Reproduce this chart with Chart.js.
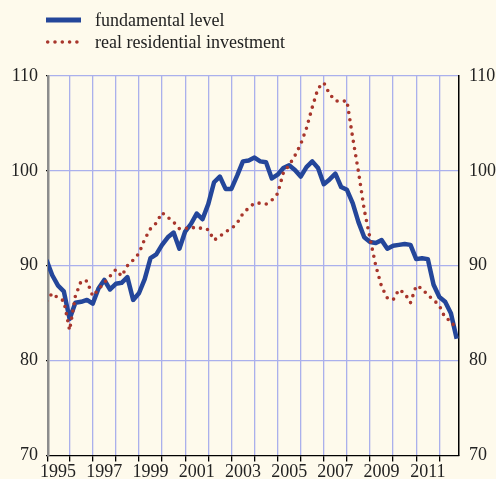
<!DOCTYPE html>
<html>
<head>
<meta charset="utf-8">
<script src="https://cdn.jsdelivr.net/npm/chart.js@4/dist/chart.umd.min.js"></script>
<style>
  html, body { margin: 0; padding: 0; background: #fefaec; }
  canvas { display: block; }
</style>
</head>
<body>
<canvas id="chart" width="496" height="479"></canvas>
<script>
// Quarterly series, 1995 Q1 onwards
const firstYear = 1995;
const periodsPerYear = 4;

const fundamentalLevel = [
  90.6, 89.0, 87.9, 87.3,
  84.4, 86.1, 86.2, 86.4,
  86.0, 87.6, 88.5, 87.5,
  88.1, 88.2, 88.8, 86.4,
  87.1, 88.6, 90.8, 91.2,
  92.2, 93.0, 93.5, 91.8,
  93.6, 94.4, 95.5, 94.9,
  96.5, 98.8, 99.4, 98.1,
  98.1, 99.5, 101.0, 101.1,
  101.4, 101.0, 100.9, 99.2,
  99.6, 100.3, 100.6, 100.1,
  99.4, 100.4, 101.0, 100.3,
  98.6, 99.1, 99.7, 98.3,
  98.0, 96.6, 94.6, 93.0,
  92.5, 92.4, 92.7, 91.8,
  92.1, 92.2, 92.3, 92.2,
  90.7, 90.8, 90.7, 88.0,
  86.7, 86.2, 85.0, 82.3
];

const residentialInvestment = [
  86.3, 87.1, 86.6, 86.3,
  83.2, 86.8, 88.4, 88.4,
  86.8, 87.5, 88.2, 88.9,
  89.6, 88.9, 90.0, 90.6,
  91.3, 92.8, 93.9, 94.5,
  95.6, 95.1, 94.6, 93.9,
  93.9, 94.1, 93.9, 94.0,
  93.8, 92.7, 93.1, 93.6,
  93.9, 94.5, 95.5, 96.1,
  96.6, 96.6, 96.5, 96.9,
  97.6, 99.8, 100.6, 101.6,
  102.8, 104.5, 106.7, 108.7,
  109.3, 108.1, 107.4, 107.3,
  107.4, 103.5, 99.9, 95.9,
  92.9, 90.0, 87.8, 86.6,
  86.4, 87.5, 87.1, 86.1,
  87.9, 87.6, 86.9, 86.4,
  85.8, 84.5, 84.2, 83.2
];

const labelYears = [1995, 1997, 1999, 2001, 2003, 2005, 2007, 2009, 2011];
const gridYears = [1996, 1997, 1998, 1999, 2000, 2001, 2002, 2003, 2004,
                   2005, 2006, 2007, 2008, 2009, 2010, 2011, 2012];
const yTickValues = [70, 80, 90, 100, 110];

const X_MIN = 1995.065;
const X_MAX = 2012.85;
const GRID = '#aab0ec';
const CLEAR = 'rgba(0,0,0,0)';
const FONT = { family: '"Liberation Serif", "Times New Roman", serif', size: 18, lineHeight: 1 };
const TEXT = '#222222';

const toPoints = (values) => values.map((v, i) => ({ x: firstYear + i / periodsPerYear, y: v }));
const fixedWidth = (w) => (axis) => { axis.width = w; };

// Two-row legend in the top-left corner, styled from each dataset
const cornerLegend = {
  id: 'cornerLegend',
  afterDraw(chart) {
    const ctx = chart.ctx;
    chart.data.datasets.forEach((ds, i) => {
      const y = 20 + i * 22;
      ctx.save();
      ctx.strokeStyle = ds.borderColor;
      ctx.lineWidth = i === 0 ? 5 : ds.borderWidth;
      ctx.lineCap = ds.borderCapStyle || 'butt';
      ctx.setLineDash(ds.borderDash || []);
      ctx.beginPath();
      ctx.moveTo(i === 0 ? 46 : 47.7, y);
      ctx.lineTo(i === 0 ? 81 : 78.5, y);
      ctx.stroke();
      ctx.setLineDash([]);
      ctx.fillStyle = TEXT;
      ctx.font = '18px "Liberation Serif", "Times New Roman", serif';
      ctx.textBaseline = 'middle';
      ctx.fillText(ds.label, 95, y + 1);
      ctx.restore();
    });
  }
};

new Chart(document.getElementById('chart'), {
  type: 'line',
  data: {
    datasets: [
      {
        label: 'fundamental level',
        data: toPoints(fundamentalLevel),
        borderColor: '#24469a',
        borderWidth: 4.5,
        borderJoinStyle: 'round',
        pointRadius: 0,
        tension: 0,
        clip: 0,
        order: 2
      },
      {
        label: 'real residential investment',
        data: toPoints(residentialInvestment),
        borderColor: '#a8362c',
        borderWidth: 3.6,
        borderDash: [0, 7.3],
        borderCapStyle: 'round',
        pointRadius: 0,
        tension: 0,
        clip: 0,
        order: 1
      }
    ]
  },
  options: {
    responsive: false,
    animation: false,
    layout: { padding: { top: 76, left: 11, right: 0, bottom: 0 } },
    plugins: { legend: { display: false }, tooltip: { enabled: false } },
    scales: {
      x: {
        type: 'linear',
        position: 'bottom',
        min: X_MIN,
        max: X_MAX,
        afterBuildTicks(axis) {
          const vals = [X_MIN, ...gridYears, ...labelYears.map(y => y + 0.5)];
          vals.sort((a, b) => a - b);
          axis.ticks = vals.map(v => ({ value: v }));
        },
        afterFit(axis) { axis.height = 23.5; },
        grid: {
          color: (c) => Number.isInteger(c.tick && c.tick.value) ? GRID : CLEAR,
          tickColor: (c) => (c.tick && (Number.isInteger(c.tick.value) || c.tick.value === X_MIN)) ? '#000000' : CLEAR,
          tickLength: 6,
          lineWidth: 1.3,
          tickWidth: 1.3
        },
        border: { color: '#000000', width: 1.3 },
        ticks: {
          autoSkip: false,
          maxRotation: 0,
          minRotation: 0,
          padding: 2,
          color: TEXT,
          font: FONT,
          callback: (v) => labelYears.includes(v - 0.5) ? String(v - 0.5) : ''
        }
      },
      y: {
        position: 'left',
        min: 70,
        max: 110,
        afterBuildTicks(axis) { axis.ticks = yTickValues.map(v => ({ value: v })); },
        afterFit: fixedWidth(37),
        grid: {
          color: (c) => (c.tick && c.tick.value === 70) ? CLEAR : GRID,
          lineWidth: 1.3,
          tickLength: 2,
          tickColor: '#000000'
        },
        border: { color: '#8c8c8c', width: 2.5 },
        ticks: { padding: 8, color: TEXT, font: FONT }
      },
      y2: {
        position: 'right',
        min: 70,
        max: 110,
        afterBuildTicks(axis) { axis.ticks = yTickValues.map(v => ({ value: v })); },
        afterFit: fixedWidth(37),
        grid: { display: false, drawTicks: false },
        border: { color: '#000000', width: 1.5 },
        ticks: { padding: 10, color: TEXT, font: FONT }
      }
    }
  },
  plugins: [cornerLegend]
});
</script>
</body>
</html>
